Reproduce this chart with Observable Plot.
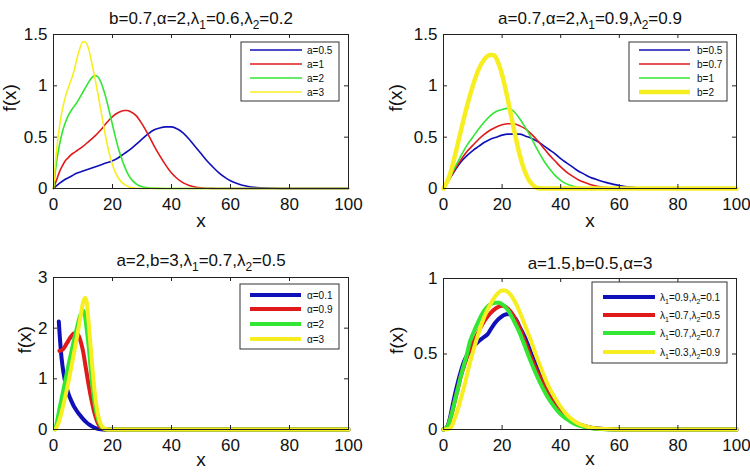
<!DOCTYPE html>
<html><head><meta charset="utf-8">
<script src="https://cdn.jsdelivr.net/npm/d3@7"></script>
<script src="https://cdn.jsdelivr.net/npm/@observablehq/plot@0.6"></script>
<style>
body{margin:0;background:#fff}
#wrap{position:relative;width:750px;height:472px;overflow:hidden}
.panel{position:absolute}
</style>
</head><body><div id="wrap"></div>
<script>
// ---------- DATA ----------
const xTicks = [0, 20, 40, 60, 80, 100];

// Panel 1: b=0.7, α=2, λ1=0.6, λ2=0.2
const p1Labels = ["a=0.5", "a=1", "a=2", "a=3"];
const p1_a05 = [[0,0],[2,0.05],[4,0.09],[6,0.12],[8,0.15],[10,0.17],[12,0.19],[14,0.21],[16,0.23],[18,0.25],[20,0.27],[22,0.3],[24,0.34],[26,0.38],[28,0.43],[30,0.48],[32,0.53],[34,0.57],[36,0.59],[38,0.6],[40,0.6],[42,0.58],[44,0.54],[46,0.48],[48,0.41],[50,0.34],[52,0.27],[54,0.21],[56,0.155],[58,0.11],[60,0.075],[62,0.05],[64,0.032],[66,0.02],[68,0.012],[70,0.007],[74,0.002],[80,0],[100,0]];
const p1_a1 = [[0,0],[1,0.08],[2,0.16],[3,0.22],[4,0.27],[5,0.3],[6,0.33],[7,0.35],[8,0.37],[10,0.41],[12,0.46],[14,0.51],[16,0.57],[18,0.64],[20,0.7],[22,0.74],[24,0.76],[25,0.76],[26,0.75],[28,0.71],[30,0.63],[32,0.53],[34,0.42],[36,0.32],[38,0.23],[40,0.15],[42,0.095],[44,0.055],[46,0.03],[48,0.015],[50,0.007],[54,0.001],[58,0],[100,0]];
const p1_a2 = [[0,0],[1,0.25],[2,0.42],[3,0.55],[4,0.64],[5,0.71],[6,0.76],[7,0.8],[8,0.84],[9,0.89],[10,0.94],[11,0.99],[12,1.04],[13,1.08],[14,1.1],[15,1.09],[16,1.04],[17,0.96],[18,0.86],[19,0.74],[20,0.62],[21,0.5],[22,0.39],[23,0.3],[24,0.22],[25,0.155],[26,0.105],[28,0.045],[30,0.017],[33,0.004],[38,0],[100,0]];
const p1_a3 = [[0,0],[0.5,0.2],[1,0.35],[2,0.6],[3,0.77],[4,0.89],[5,0.98],[6,1.06],[7,1.15],[8,1.27],[9,1.37],[10,1.43],[11,1.42],[12,1.35],[13,1.22],[14,1.08],[15,0.93],[16,0.77],[17,0.61],[18,0.46],[19,0.33],[20,0.23],[22,0.1],[24,0.04],[26,0.013],[30,0],[100,0]];

// Panel 2: a=0.7, α=2, λ1=0.9, λ2=0.9
const p2Labels = ["b=0.5", "b=0.7", "b=1", "b=2"];
const p2_b05 = [[0,0],[2,0.09],[4,0.18],[6,0.26],[8,0.32],[10,0.37],[12,0.41],[14,0.45],[16,0.48],[18,0.5],[20,0.52],[22,0.53],[24,0.53],[26,0.53],[28,0.51],[30,0.49],[32,0.46],[34,0.42],[36,0.38],[38,0.34],[40,0.29],[42,0.25],[44,0.21],[46,0.17],[48,0.14],[50,0.11],[52,0.09],[54,0.07],[56,0.055],[58,0.04],[60,0.03],[62,0.02],[64,0.013],[66,0.008],[70,0.003],[75,0.001],[80,0],[100,0]];
const p2_b07 = [[0,0],[2,0.09],[4,0.19],[6,0.28],[8,0.36],[10,0.42],[12,0.48],[14,0.53],[16,0.57],[18,0.6],[20,0.62],[22,0.63],[24,0.63],[26,0.61],[28,0.58],[30,0.53],[32,0.47],[34,0.4],[36,0.33],[38,0.27],[40,0.21],[42,0.16],[44,0.12],[46,0.085],[48,0.06],[50,0.04],[52,0.025],[54,0.015],[56,0.009],[58,0.004],[62,0.001],[65,0],[100,0]];
const p2_b1 = [[0,0],[2,0.1],[4,0.21],[6,0.32],[8,0.42],[10,0.5],[12,0.58],[14,0.65],[16,0.71],[18,0.75],[20,0.77],[22,0.78],[24,0.75],[26,0.68],[28,0.59],[30,0.49],[32,0.38],[34,0.28],[36,0.2],[38,0.13],[40,0.08],[42,0.045],[44,0.025],[46,0.012],[48,0.005],[52,0.001],[55,0],[100,0]];
const p2_b2 = [[0,0],[2,0.12],[4,0.33],[6,0.57],[8,0.8],[10,1.0],[12,1.16],[14,1.26],[16,1.3],[17,1.3],[18,1.27],[19,1.2],[20,1.11],[21,0.99],[22,0.86],[23,0.72],[24,0.58],[25,0.45],[26,0.33],[27,0.23],[28,0.15],[29,0.09],[30,0.05],[31,0.02],[32,0.005],[34,0],[100,0]];

// Panel 3: a=2, b=3, λ1=0.7, λ2=0.5
const p3Labels = ["α=0.1", "α=0.9", "α=2", "α=3"];
const p3_al01 = [[1.8,2.13],[2,1.95],[2.5,1.55],[3,1.28],[3.5,1.08],[4,0.93],[5,0.72],[6,0.57],[7,0.45],[8,0.36],[9,0.28],[10,0.21],[11,0.15],[12,0.1],[13,0.065],[14,0.035],[15,0.015],[16,0.005],[17,0],[100,0]];
const p3_al09 = [[2,1.55],[3,1.57],[4,1.65],[5,1.75],[6,1.84],[7,1.9],[8,1.89],[9,1.78],[10,1.55],[11,1.2],[12,0.85],[13,0.55],[14,0.3],[15,0.13],[16,0.04],[17,0.01],[18,0],[100,0]];
const p3_al2 = [[0.5,0],[1,0.1],[2,0.4],[3,0.68],[4,0.97],[5,1.25],[6,1.52],[7,1.78],[8,2.02],[9,2.24],[10,2.35],[10.5,2.3],[11,2.1],[12,1.6],[13,0.95],[14,0.5],[15,0.22],[16,0.08],[17,0.02],[18,0],[100,0]];
const p3_al3 = [[0.5,0],[1,0.04],[2,0.18],[3,0.4],[4,0.65],[5,0.92],[6,1.22],[7,1.52],[8,1.84],[9,2.17],[10,2.5],[10.7,2.6],[11.3,2.5],[12,2.05],[13,1.35],[14,0.72],[15,0.32],[16,0.11],[17,0.03],[18,0.005],[19,0],[100,0]];

// Panel 4: a=1.5, b=0.5, α=3
const p4Labels = ["λ_1=0.9,λ_2=0.1", "λ_1=0.7,λ_2=0.5", "λ_1=0.7,λ_2=0.7", "λ_1=0.3,λ_2=0.9"];
const p4_l1 = [[0,0],[1,0.01],[2,0.06],[3,0.15],[4,0.24],[5,0.32],[6,0.39],[7,0.45],[8,0.49],[9,0.52],[10,0.545],[11,0.565],[12,0.585],[13,0.6],[14,0.615],[15,0.63],[16,0.66],[17,0.69],[18,0.715],[19,0.735],[20,0.75],[21,0.76],[22,0.765],[23,0.76],[24,0.745],[25,0.72],[26,0.68],[28,0.6],[30,0.5],[32,0.41],[34,0.32],[36,0.245],[38,0.18],[40,0.13],[42,0.09],[44,0.06],[46,0.038],[48,0.024],[50,0.014],[55,0.003],[60,0],[100,0]];
const p4_l2 = [[0,0],[1,0.01],[2,0.05],[3,0.12],[4,0.2],[5,0.28],[6,0.36],[7,0.42],[8,0.48],[9,0.53],[10,0.57],[12,0.65],[14,0.72],[16,0.77],[18,0.805],[20,0.82],[21,0.815],[22,0.8],[24,0.75],[26,0.67],[28,0.57],[30,0.47],[32,0.38],[34,0.3],[36,0.22],[38,0.16],[40,0.11],[42,0.075],[44,0.05],[46,0.032],[48,0.02],[50,0.012],[55,0.003],[60,0],[100,0]];
const p4_l3 = [[0,0],[1,0.01],[2,0.05],[3,0.12],[4,0.2],[5,0.28],[6,0.36],[7,0.43],[8,0.5],[9,0.58],[10,0.63],[12,0.72],[14,0.79],[16,0.83],[18,0.84],[19,0.84],[20,0.83],[22,0.79],[24,0.72],[26,0.64],[28,0.54],[30,0.44],[32,0.35],[34,0.27],[36,0.2],[38,0.145],[40,0.1],[42,0.07],[44,0.045],[46,0.028],[48,0.017],[50,0.01],[55,0.002],[60,0],[100,0]];
const p4_l4 = [[0,0],[2,0.005],[3,0.03],[4,0.08],[5,0.14],[6,0.21],[7,0.28],[8,0.36],[9,0.44],[10,0.51],[12,0.64],[14,0.75],[16,0.83],[18,0.89],[20,0.92],[21,0.92],[22,0.91],[24,0.86],[26,0.78],[28,0.68],[30,0.58],[32,0.47],[34,0.37],[36,0.28],[38,0.21],[40,0.15],[42,0.1],[44,0.065],[46,0.04],[48,0.025],[50,0.014],[55,0.003],[60,0],[100,0]];

const titles = ["b=0.7,α=2,λ_1=0.6,λ_2=0.2", "a=0.7,α=2,λ_1=0.9,λ_2=0.9", "a=2,b=3,λ_1=0.7,λ_2=0.5", "a=1.5,b=0.5,α=3"];

// ---------- STYLE ----------
const FONT = "'Liberation Sans', Arial, Helvetica, sans-serif";
const COLORS = ["#1010b8", "#e01a1a", "#33e633", "#f7ee22"];
const TICK_FS = 17, TITLE_FS = 17, LAB_FS = 19, LEG_FS = 10;
const NS = "http://www.w3.org/2000/svg";

function subscriptify(el, fs) {
  const s = el.textContent;
  if (!s.includes("_")) return;
  const parts = s.split(/_(\d)/);
  el.textContent = "";
  parts.forEach((p, i) => {
    if (p === "") return;
    const t = document.createElementNS(NS, "tspan");
    t.textContent = p;
    if (i % 2 === 1) { t.setAttribute("font-size", fs * 0.7); t.setAttribute("dy", fs * 0.3); }
    else if (i > 0) { t.setAttribute("dy", -fs * 0.3); }
    el.appendChild(t);
  });
}

function panel(cfg) {
  const W = 375, H = 236;
  const [mt, mr, mb, ml] = cfg.margin;
  const fw = W - ml - mr, fh = H - mt - mb;
  const marks = [];
  cfg.series.forEach((s, i) => {
    marks.push(Plot.line(s, {x: d => d[0], y: d => d[1], stroke: COLORS[i], strokeWidth: cfg.widths[i], curve: "monotone-x"}));
  });
  marks.push(
    Plot.frame({stroke: "#222", strokeWidth: 1}),
    Plot.tickX(xTicks, {x: d => d, insetTop: fh - 4, stroke: "#222"}),
    Plot.tickX(xTicks, {x: d => d, insetBottom: fh - 4, stroke: "#222"}),
    Plot.tickY(cfg.yTicks, {y: d => d, insetRight: fw - 4, stroke: "#222"}),
    Plot.tickY(cfg.yTicks, {y: d => d, insetLeft: fw - 4, stroke: "#222"}),
    Plot.axisX({ticks: xTicks, tickFormat: d => String(d), tickSize: 0, tickPadding: 9, fontSize: TICK_FS, label: null, fill: "#111"}),
    Plot.axisY({ticks: cfg.yTicks, tickFormat: d => String(d), tickSize: 0, tickPadding: 6, fontSize: TICK_FS, label: null, fill: "#111"}),
    Plot.text([cfg.title], {frameAnchor: "top", dy: cfg.titleDy, fontSize: TITLE_FS, fill: "#111"}),
    Plot.text(["x"], {frameAnchor: "bottom", dy: cfg.xlabDy, fontSize: LAB_FS, fill: "#111"}),
    Plot.text(["f(x)"], {frameAnchor: "left", rotate: -90, dx: cfg.ylabDx, fontSize: LAB_FS, fill: "#111"})
  );
  const svg = Plot.plot({
    width: W, height: H,
    marginTop: mt, marginRight: mr, marginBottom: mb, marginLeft: ml,
    x: {domain: [0, 100]},
    y: {domain: cfg.yDomain},
    style: {fontFamily: FONT, background: "white", overflow: "visible"},
    marks
  });
  svg.querySelectorAll("text").forEach(t => subscriptify(t, TITLE_FS));
  // legend
  const L = cfg.legend;
  const g = d3.select(svg).append("g").attr("text-anchor", "start");
  g.append("rect").attr("x", L.x).attr("y", L.y).attr("width", L.w).attr("height", L.h)
    .attr("fill", "white").attr("stroke", "#333").attr("stroke-width", 1);
  cfg.labels.forEach((lab, i) => {
    const y = L.rows[i];
    g.append("line").attr("x1", L.lx1).attr("x2", L.lx2).attr("y1", y).attr("y2", y)
      .attr("stroke", COLORS[i]).attr("stroke-width", cfg.widths[i]);
    const t = g.append("text").attr("x", L.tx).attr("y", y).attr("dy", "0.35em")
      .attr("text-anchor", "start")
      .attr("font-size", LEG_FS).attr("font-family", FONT).attr("fill", "#111").text(lab);
    subscriptify(t.node(), LEG_FS);
  });
  const div = document.createElement("div");
  div.className = "panel";
  div.style.left = cfg.left + "px";
  div.style.top = cfg.top + "px";
  div.appendChild(svg);
  document.getElementById("wrap").appendChild(div);
}

const thin = 1.6, thick = 4;

panel({
  left: 0, top: 0, margin: [34, 27, 48, 53],
  series: [p1_a05, p1_a1, p1_a2, p1_a3], labels: p1Labels, widths: [thin, thin, thin, thin],
  yDomain: [0, 1.5], yTicks: [0, 0.5, 1, 1.5], title: titles[0],
  titleDy: -23, xlabDy: 38, ylabDx: -44,
  legend: {x: 241, y: 42, w: 98, h: 59, lx1: 250, lx2: 302, tx: 307, rows: [50, 64, 78, 92]}
});
panel({
  left: 375, top: 0, margin: [34, 14, 48, 68],
  series: [p2_b05, p2_b07, p2_b1, p2_b2], labels: p2Labels, widths: [thin, thin, thin, 4.5],
  yDomain: [0, 1.5], yTicks: [0, 0.5, 1, 1.5], title: titles[1],
  titleDy: -23, xlabDy: 38, ylabDx: -48,
  legend: {x: 254, y: 42, w: 98, h: 59, lx1: 264, lx2: 315, tx: 322, rows: [50, 64, 78, 92]}
});
panel({
  left: 0, top: 236, margin: [41, 27, 43, 53],
  series: [p3_al01, p3_al09, p3_al2, p3_al3], labels: p3Labels, widths: [thick, thick, thick, thick],
  yDomain: [0, 3], yTicks: [0, 1, 2, 3], title: titles[2],
  titleDy: -24, xlabDy: 36, ylabDx: -29,
  legend: {x: 240, y: 48, w: 99, h: 65, lx1: 250, lx2: 301, tx: 307, rows: [59, 73, 88, 103]}
});
panel({
  left: 375, top: 236, margin: [42, 14, 43, 68],
  series: [p4_l1, p4_l2, p4_l3, p4_l4], labels: p4Labels, widths: [thick, thick, thick, thick],
  yDomain: [0, 1], yTicks: [0, 0.5, 1], title: titles[3],
  titleDy: -22, xlabDy: 35, ylabDx: -47,
  legend: {x: 217, y: 46, w: 135, h: 81, lx1: 228, lx2: 280, tx: 285, rows: [61, 79, 97, 116]}
});
</script>
</body></html>
